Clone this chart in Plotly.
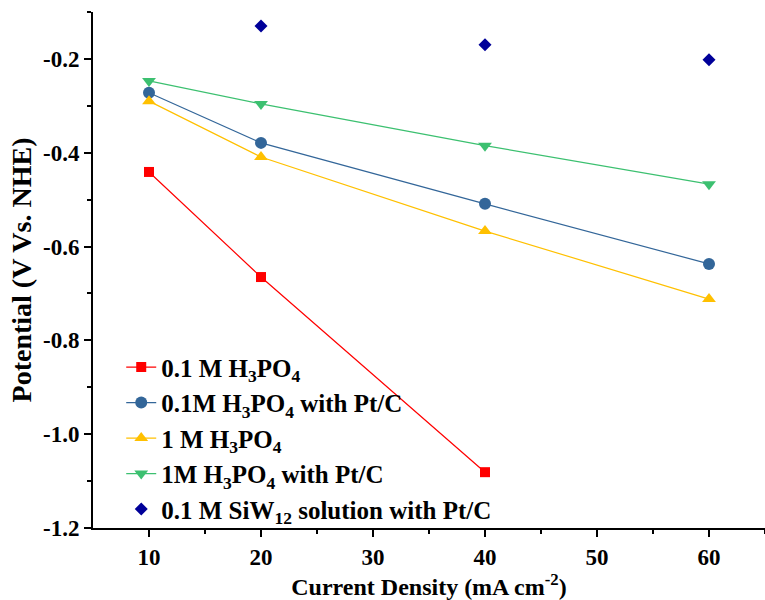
import plotly.graph_objects as go

x_all = [10, 20, 40, 60]
red_x = [10, 20, 40]
red_y = [-0.441, -0.665, -1.081]
blue_y = [-0.272, -0.379, -0.509, -0.637]
yellow_y = [-0.290, -0.409, -0.567, -0.712]
green_y = [-0.247, -0.296, -0.385, -0.467]
navy_x = [20, 40, 60]
navy_y = [-0.130, -0.170, -0.202]

x_ticks = [10, 20, 30, 40, 50, 60]
y_ticks = [-1.2, -1.0, -0.8, -0.6, -0.4, -0.2]

names = ["<b>0.1 M H<sub>3</sub>PO<sub>4</sub></b>",
         "<b>0.1M H<sub>3</sub>PO<sub>4</sub> with Pt/C</b>",
         "<b>1 M H<sub>3</sub>PO<sub>4</sub></b>",
         "<b>1M H<sub>3</sub>PO<sub>4</sub> with Pt/C</b>",
         "<b>0.1 M SiW<sub>12</sub> solution with Pt/C</b>"]

font = "Liberation Serif"
fig = go.Figure()
fig.add_trace(go.Scatter(x=red_x, y=red_y, name=names[0], mode="lines+markers", legendgroup="a",
                         line=dict(color="#ff0000", width=1.2),
                         marker=dict(symbol="square", size=10, color="#ff0000")))
fig.add_trace(go.Scatter(x=x_all, y=blue_y, name=names[1], mode="lines+markers", legendgroup="b",
                         line=dict(color="#336699", width=1.2),
                         marker=dict(symbol="circle", size=12, color="#336699")))
fig.add_trace(go.Scatter(x=x_all, y=yellow_y, name=names[2], mode="lines+markers", legendgroup="c",
                         line=dict(color="#ffc000", width=1.2),
                         marker=dict(symbol="triangle-up", size=12, color="#ffc000")))
fig.add_trace(go.Scatter(x=x_all, y=green_y, name=names[3], mode="lines+markers", legendgroup="d",
                         line=dict(color="#3cc070", width=1.2),
                         marker=dict(symbol="triangle-down", size=12, color="#3cc070")))
fig.add_trace(go.Scatter(x=navy_x, y=navy_y, name=names[4], mode="markers", legendgroup="e",
                         marker=dict(symbol="diamond", size=10, color="#000099")))

tick_style = dict(showline=True, linecolor="black", linewidth=2, showgrid=False,
                  zeroline=False, ticks="outside", ticklen=7, tickwidth=2,
                  tickcolor="black",
                  tickfont=dict(family=font, size=23, color="black"))
minor_style = dict(ticks="outside", ticklen=4, tickwidth=2, tickcolor="black")

fig.update_layout(
    width=765, height=600,
    margin=dict(l=93, r=0, t=12, b=72),
    paper_bgcolor="white", plot_bgcolor="white",
    font=dict(family=font, color="black"),
    xaxis=dict(range=[5, 65], tickvals=x_ticks,
               ticktext=["<b>%d</b>" % v for v in x_ticks],
               minor=dict(tickvals=[15, 25, 35, 45, 55, 65], **minor_style),
               title=dict(text="<b>Current Density (mA cm<sup>-2</sup>)</b>",
                          font=dict(family=font, size=24, color="black"),
                          standoff=1),
               **tick_style),
    yaxis=dict(range=[-1.2, -0.1], tickvals=y_ticks,
               ticktext=["<b>%.1f</b>" % v for v in y_ticks],
               minor=dict(tickvals=[-1.1, -0.9, -0.7, -0.5, -0.3, -0.1], **minor_style),
               title=dict(text="<b>Potential (V Vs. NHE)</b>",
                          font=dict(family=font, size=28, color="black"),
                          standoff=3),
               **tick_style),
    legend=dict(x=0.042, y=0.356, xanchor="left", yanchor="top",
                bgcolor="rgba(0,0,0,0)",
                font=dict(family=font, size=25, color="black"),
                tracegroupgap=0),
)

fig.write_html("out.html")
